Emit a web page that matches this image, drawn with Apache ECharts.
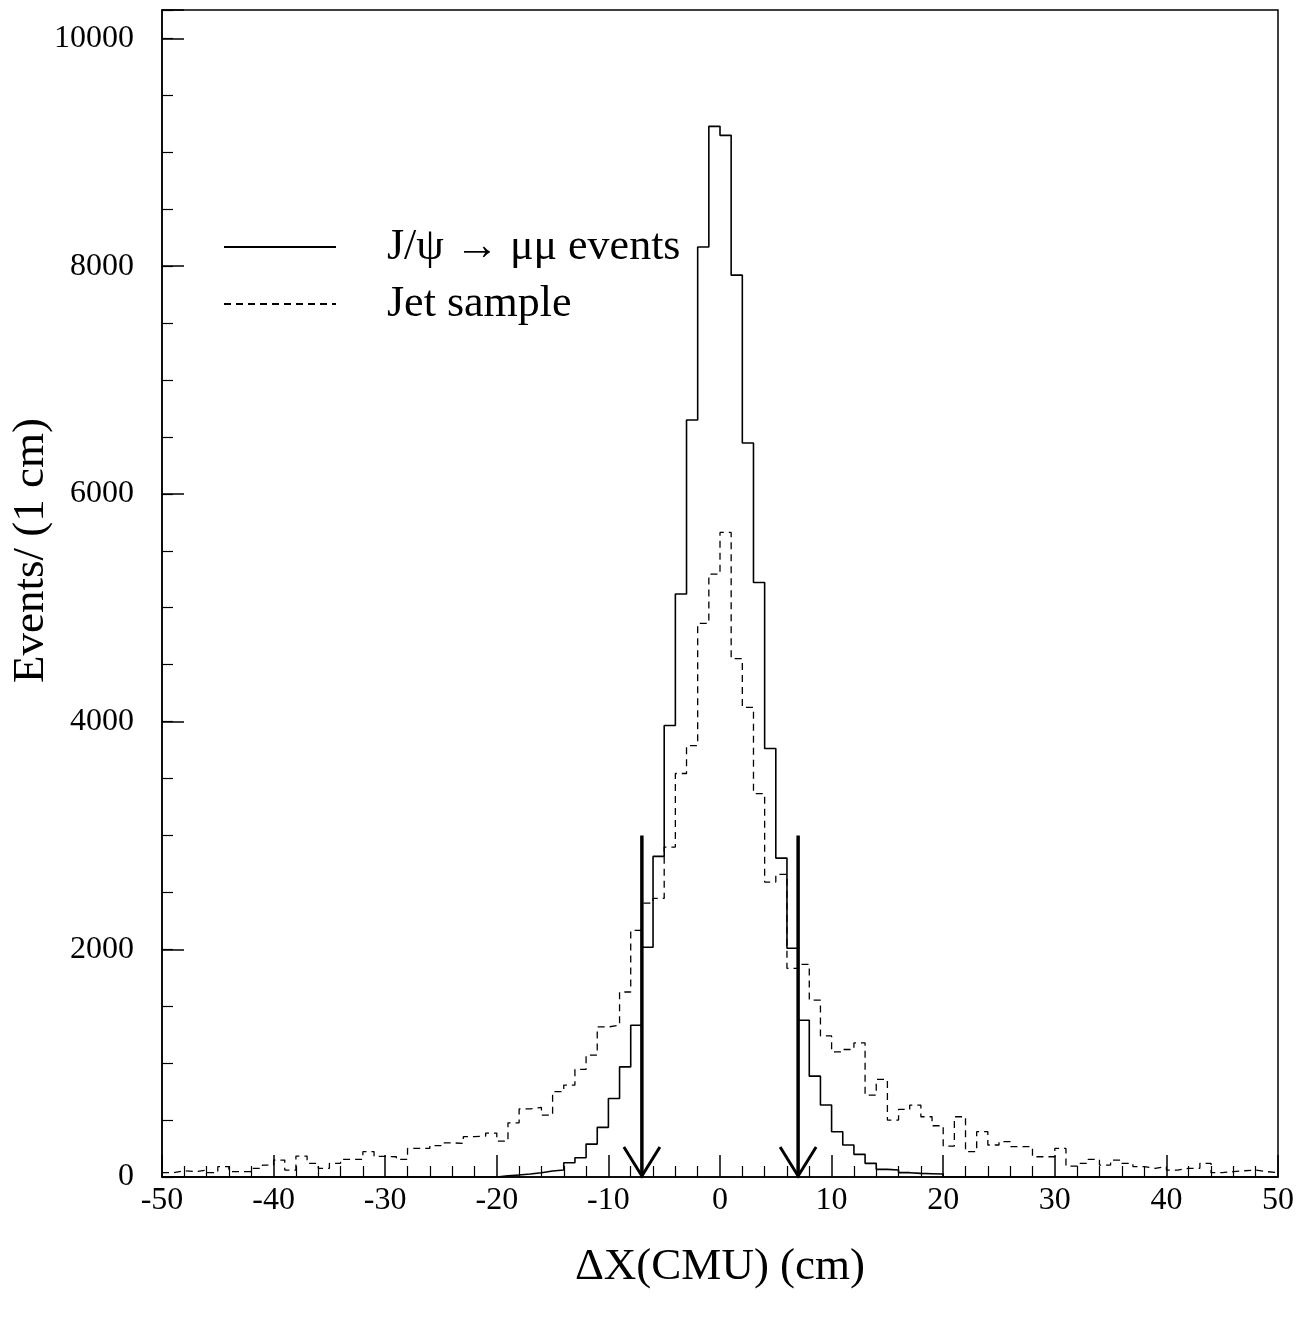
<!DOCTYPE html>
<html>
<head>
<meta charset="utf-8">
<script src="https://cdn.jsdelivr.net/npm/echarts@6/dist/echarts.min.js"></script>
<style>
  html, body { margin: 0; padding: 0; background: #fff; }
  #chart { width: 1313px; height: 1319px; }
</style>
</head>
<body>
<div id="chart"></div>
<script>
// histogram bins: 1 cm wide, from -50 to 50
const xMin = -50
const binWidth = 1

// J/psi -> mu mu events, bins [-50,-49] ... [49,50]
const jpsiCounts = [
  0, 0, 0, 0, 0, 0, 0, 0, 0, 0,
  0, 0, 0, 0, 0, 0, 0, 0, 0, 0,
  0, 0, 0, 0, 0, 0, 0, 0, 0, 0,
  10, 18, 26, 38, 53, 61, 125, 169, 289, 436,
  690, 967, 1333, 2018, 2816, 3965, 5120, 6649, 8169, 9228,
  9149, 7921, 6447, 5222, 3763, 2801, 2009, 1377, 886, 632,
  398, 281, 199, 120, 67, 61, 38, 32, 29, 26,
  0, 0, 0, 0, 0, 0, 0, 0, 0, 0,
  0, 0, 0, 0, 0, 0, 0, 0, 0, 0,
  0, 0, 0, 0, 0, 0, 0, 0, 0, 0
]

// jet sample, same bins
const jetCounts = [
  38, 55, 47, 61, 38, 91, 47, 47, 76, 105,
  149, 61, 184, 120, 76, 120, 155, 155, 222, 181,
  178, 155, 251, 251, 275, 300, 295, 354, 360, 386,
  315, 476, 599, 611, 544, 749, 807, 945, 1070, 1318,
  1333, 1625, 2167, 2406, 2447, 2898, 3544, 3789, 4862, 5295,
  5661, 4553, 4125, 3368, 2590, 2658, 1833, 1868, 1553, 1239,
  1099, 1120, 1178, 719, 857, 500, 594, 632, 529, 450,
  272, 529, 222, 398, 281, 310, 266, 266, 178, 178,
  251, 96, 120, 155, 105, 149, 120, 91, 76, 91,
  61, 76, 76, 120, 38, 47, 55, 61, 47, 38
]

const seriesNames = ['J/\u03C8 \u2192 \u03BC\u03BC events', 'Jet sample']

// selection cut at |dX| < 7 cm, arrows drawn down from 3000
const cutValues = [-7, 7]
const arrowTop = 3000

const xTicks = [-50, -40, -30, -20, -10, 0, 10, 20, 30, 40, 50]
const yLabels = [0, 2000, 4000, 6000, 8000, 10000]

const FONT = "'Liberation Serif', 'DejaVu Serif', serif"

// bin left edges + closing point so step:'end' draws full bins
function toSteps (counts) {
  const pts = counts.map((c, i) => [xMin + i * binWidth, c])
  pts.push([xMin + counts.length * binWidth, counts[counts.length - 1]])
  return pts
}

const chart = echarts.init(document.getElementById('chart'))

const option = {
  backgroundColor: '#fff',
  animation: false,
  grid: {
    left: 162,
    right: 35,
    top: 10,
    bottom: 142,
    show: true,
    borderColor: '#000',
    borderWidth: 1.5,
    containLabel: false,
    outerBoundsMode: 'none'
  },
  legend: {
    orient: 'vertical',
    left: 218,
    top: 216,
    itemWidth: 112,
    itemHeight: 14,
    itemGap: 5,
    data: seriesNames,
    selectedMode: false,
    itemStyle: { opacity: 0 },
    textStyle: {
      fontFamily: FONT,
      fontSize: 44,
      color: '#000',
      lineHeight: 52,
      padding: [0, 0, 0, 46]
    }
  },
  xAxis: {
    type: 'value',
    min: xTicks[0],
    max: xTicks[xTicks.length - 1],
    interval: 10,
    name: '\u0394X(CMU) (cm)',
    nameLocation: 'middle',
    nameGap: 68,
    nameMoveOverlap: false,
    nameTextStyle: { fontFamily: FONT, fontSize: 45, color: '#000' },
    axisLine: { lineStyle: { color: '#000', width: 1.5 } },
    axisTick: { inside: true, length: 22, lineStyle: { color: '#000', width: 1.5 } },
    minorTick: { show: true, splitNumber: 5, length: 11, lineStyle: { color: '#000', width: 1.2 } },
    splitLine: { show: false },
    axisLabel: { fontFamily: FONT, fontSize: 32, color: '#000', margin: 8 }
  },
  yAxis: [
    {
      type: 'value',
      min: 0,
      max: 10250,
      interval: 2000,
      name: 'Events/ (1 cm)',
      nameLocation: 'middle',
      nameGap: 108,
      nameRotate: 90,
      nameMoveOverlap: false,
      nameTextStyle: { fontFamily: FONT, fontSize: 45, color: '#000', padding: [0, 0, 0, 86] },
      axisLine: { onZero: false, lineStyle: { color: '#000', width: 1.5 } },
      axisTick: { inside: true, length: 22, lineStyle: { color: '#000', width: 1.5 } },
      splitLine: { show: false },
      axisLabel: {
        fontFamily: FONT,
        fontSize: 32,
        color: '#000',
        margin: 28,
        formatter: v => (yLabels.indexOf(v) >= 0 ? String(v) : '')
      }
    },
    {
      // short ticks every 500
      type: 'value',
      min: 0,
      max: 10250,
      interval: 500,
      position: 'left',
      axisLine: { show: false, onZero: false },
      axisTick: { inside: true, length: 11, lineStyle: { color: '#000', width: 1.2 } },
      axisLabel: { show: false },
      splitLine: { show: false }
    }
  ],
  series: [
    {
      name: seriesNames[0],
      type: 'line',
      step: 'end',
      symbol: 'none',
      data: toSteps(jpsiCounts),
      lineStyle: { color: '#000', width: 1.6 },
      itemStyle: { color: '#000' },
      z: 3
    },
    {
      name: seriesNames[1],
      type: 'line',
      step: 'end',
      symbol: 'none',
      data: toSteps(jetCounts),
      lineStyle: { color: '#000', width: 1.3, type: [7, 5] },
      itemStyle: { color: '#000' },
      z: 2
    },
    {
      type: 'custom',
      data: cutValues.map(c => [c, arrowTop]),
      z: 4,
      renderItem: (params, api) => {
        const top = api.coord([api.value(0), api.value(1)])
        const bot = api.coord([api.value(0), 0])
        return {
          type: 'group',
          children: [
            {
              type: 'line',
              shape: { x1: top[0], y1: top[1], x2: bot[0], y2: bot[1] },
              style: { stroke: '#000', lineWidth: 3.5, fill: null }
            },
            {
              type: 'polyline',
              shape: { points: [[bot[0] - 18, bot[1] - 30], [bot[0], bot[1] - 1], [bot[0] + 18, bot[1] - 30]] },
              style: { stroke: '#000', lineWidth: 3, fill: null }
            }
          ]
        }
      }
    }
  ]
}

chart.setOption(option)
</script>
</body>
</html>
